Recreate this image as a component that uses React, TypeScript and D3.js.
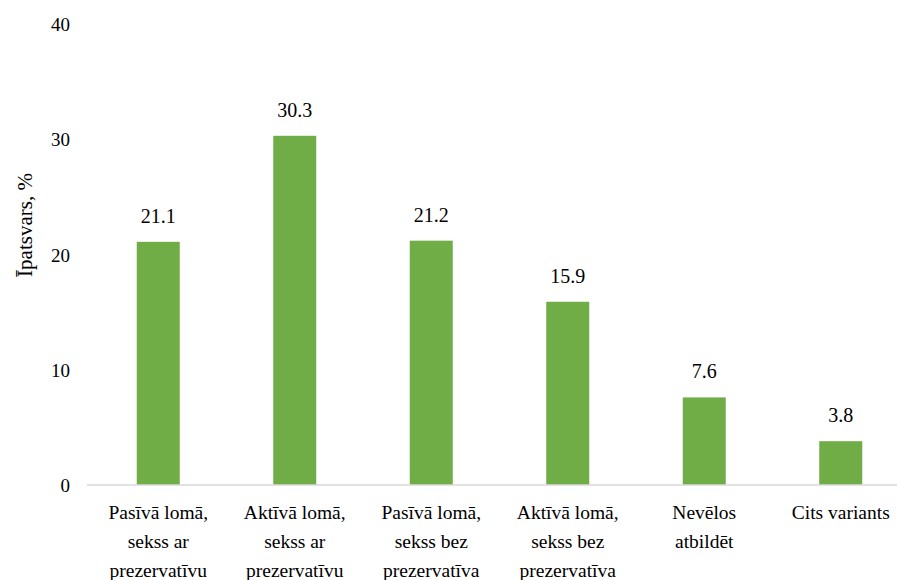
import * as d3 from "d3";
import { useEffect, useRef } from "react";

const categories = [
  ["Pasīvā lomā,", "sekss ar", "prezervatīvu"],
  ["Aktīvā lomā,", "sekss ar", "prezervatīvu"],
  ["Pasīvā lomā,", "sekss bez", "prezervatīva"],
  ["Aktīvā lomā,", "sekss bez", "prezervatīva"],
  ["Nevēlos", "atbildēt"],
  ["Cits variants"],
];
const values = [21.1, 30.3, 21.2, 15.9, 7.6, 3.8];
const yTicks = [0, 10, 20, 30, 40];

const WIDTH = 897;
const HEIGHT = 580;

export default function App() {
  const ref = useRef<SVGSVGElement>(null);

  useEffect(() => {
    const svg = d3.select(ref.current);
    svg.selectAll("*").remove();
    const ids = categories.map((_, i) => String(i));
    const x = d3.scaleBand().domain(ids).range([90, 909]).paddingInner(0.685).paddingOuter(0.3425);
    const y = d3.scaleLinear().domain([0, 40]).range([485, 24]);

    const g = svg.append("g").style("font-family", "serif").attr("fill", "#000");

    g.selectAll(".ytick")
      .data(yTicks)
      .join("text")
      .attr("x", 70)
      .attr("y", (d) => y(d) + 7)
      .attr("text-anchor", "end")
      .attr("font-size", 19)
      .text((d) => d);

    g.append("text")
      .attr("transform", "translate(32,225) rotate(-90)")
      .attr("text-anchor", "middle")
      .attr("font-size", 21)
      .text("Īpatsvars, %");

    g.selectAll(".bar")
      .data(values)
      .join("rect")
      .attr("x", (_, i) => x(ids[i]) as number)
      .attr("y", (d) => y(d))
      .attr("width", x.bandwidth())
      .attr("height", (d) => y(0) - y(d))
      .attr("fill", "#70ad47");

    g.selectAll(".val")
      .data(values)
      .join("text")
      .attr("x", (_, i) => (x(ids[i]) as number) + x.bandwidth() / 2)
      .attr("y", (d) => y(d) - 19)
      .attr("text-anchor", "middle")
      .attr("font-size", 20)
      .text((d) => d.toFixed(1));

    g.append("line")
      .attr("x1", 87)
      .attr("x2", WIDTH)
      .attr("y1", y(0))
      .attr("y2", y(0))
      .attr("stroke", "#d9d9d9")
      .attr("stroke-width", 1.5);

    categories.forEach((lines, i) => {
      const cx = (x(ids[i]) as number) + x.bandwidth() / 2;
      lines.forEach((l, j) => {
        g.append("text")
          .attr("x", cx)
          .attr("y", 519 + j * 29)
          .attr("text-anchor", "middle")
          .attr("font-size", 19.5)
          .text(l);
      });
    });
  }, []);

  return (
    <svg
      ref={ref}
      width={WIDTH}
      height={HEIGHT}
      style={{ position: "absolute", left: 0, top: 0, background: "#fff" }}
    />
  );
}
